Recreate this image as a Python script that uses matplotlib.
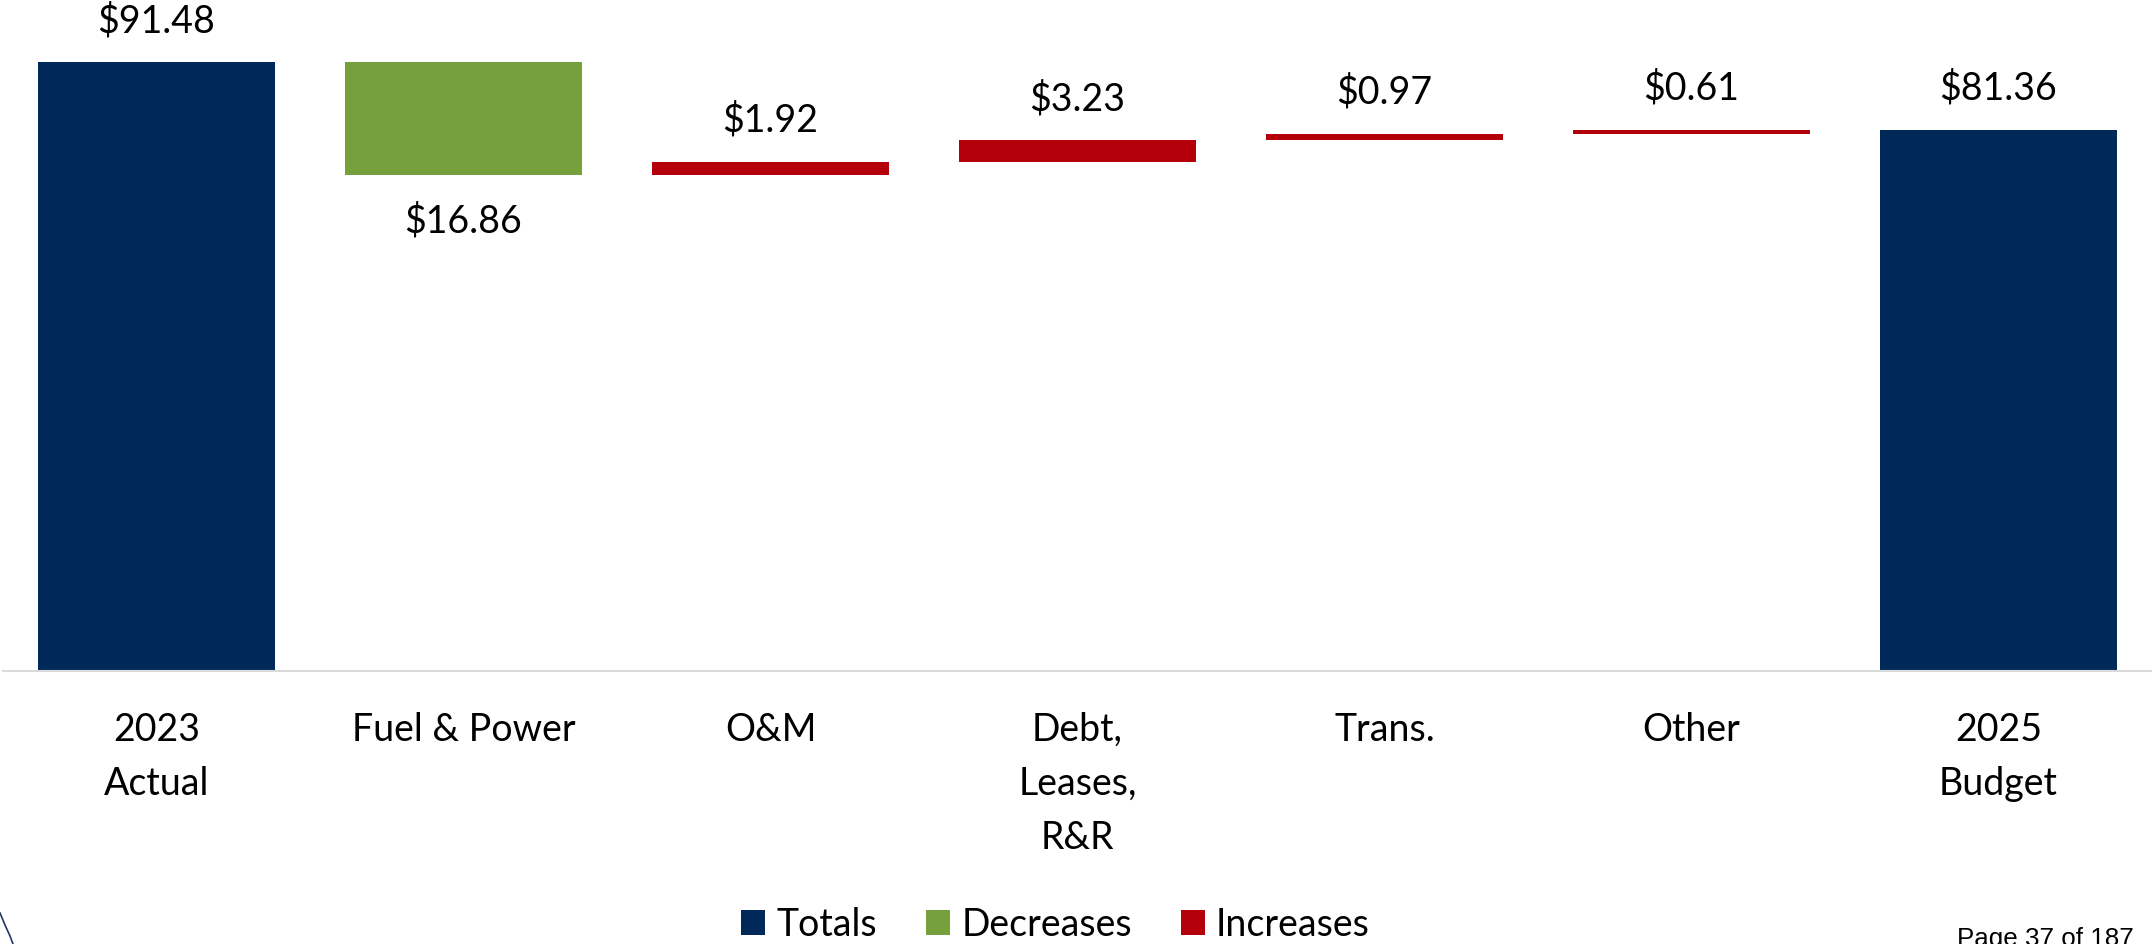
import matplotlib
matplotlib.use("Agg")
import matplotlib.pyplot as plt
from matplotlib.patches import Patch
from matplotlib.lines import Line2D
import numpy as np

# ---- data ----
categories = ["2023\nActual", "Fuel & Power", "O&M", "Debt,\nLeases,\nR&R", "Trans.", "Other", "2025\nBudget"]
changes = [91.48, -16.86, 1.92, 3.23, 0.97, 0.61, 81.36]
kinds = ["total", "change", "change", "change", "change", "change", "total"]
legend_labels = ["Totals", "Decreases", "Increases"]
legend_colors = ["#00295A", "#75A03B", "#B3000B"]
page_note = "Page 37 of 187"

# ---- layout ----
W, H = 2152, 944
FONT = "Lato"
FS = 27
fig = plt.figure(figsize=(W / 100, H / 100), dpi=100)
ax = fig.add_axes([3 / W, (H - 671) / H, (W - 3) / W, 671 / H])

col = dict(zip(legend_labels, legend_colors))
bottoms, heights, cols = [], [], []
running = 0.0
for v, k in zip(changes, kinds):
    if k == "total":
        bottoms.append(0.0); heights.append(v); cols.append(col["Totals"]); running = v
    elif v < 0:
        bottoms.append(running + v); heights.append(-v); cols.append(col["Decreases"]); running += v
    else:
        bottoms.append(running); heights.append(v); cols.append(col["Increases"]); running += v

x = np.arange(len(categories))
ax.bar(x, heights, bottom=bottoms, width=0.772, color=cols, zorder=3)

for xi, v, k, b, h in zip(x, changes, kinds, bottoms, heights):
    txt = f"${abs(v):.2f}"
    if k != "total" and v < 0:
        ax.annotate(txt, (xi, b), xytext=(0, -58), textcoords="offset pixels",
                    ha="center", va="baseline", fontsize=FS, family=FONT)
    else:
        ax.annotate(txt, (xi, b + h), xytext=(0, 30), textcoords="offset pixels",
                    ha="center", va="baseline", fontsize=FS, family=FONT)

ax.set_xlim(-0.5, len(categories) - 0.5)
ax.set_ylim(0, 671 / 6.652)
ax.set_xticks(x, categories, fontsize=FS, family=FONT, linespacing=1.62)
ax.tick_params(axis="x", length=0, pad=29.5)
ax.set_yticks([])
for s in ["top", "left", "right"]:
    ax.spines[s].set_visible(False)
ax.spines["bottom"].set_color("#d9d9d9")
ax.spines["bottom"].set_linewidth(1.5)
ax.spines["bottom"].set_zorder(4)

handles = [Patch(facecolor=c, edgecolor="none", label=l) for l, c in zip(legend_labels, legend_colors)]
fig.legend(handles=handles, loc="center", bbox_to_anchor=(1055.5 / W, 1 - 925 / H), ncol=3,
           frameon=False, prop={"family": FONT, "size": FS}, handlelength=0.64, handleheight=0.64,
           handletextpad=0.3, columnspacing=1.3, borderpad=0)

fig.text(1957 / W, -2 / H, page_note, family="Liberation Sans", fontsize=18.7, ha="left", va="baseline")

# logo fragment at bottom-left
fig.add_artist(Line2D([0 / W, 5 / W, 10 / W, 13 / W], [1 - 913 / H, 1 - 925 / H, 1 - 936 / H, 1 - 944 / H],
                      transform=fig.transFigure, color="#1F3864", lw=1.2))

fig.savefig("out.png", dpi=100)
